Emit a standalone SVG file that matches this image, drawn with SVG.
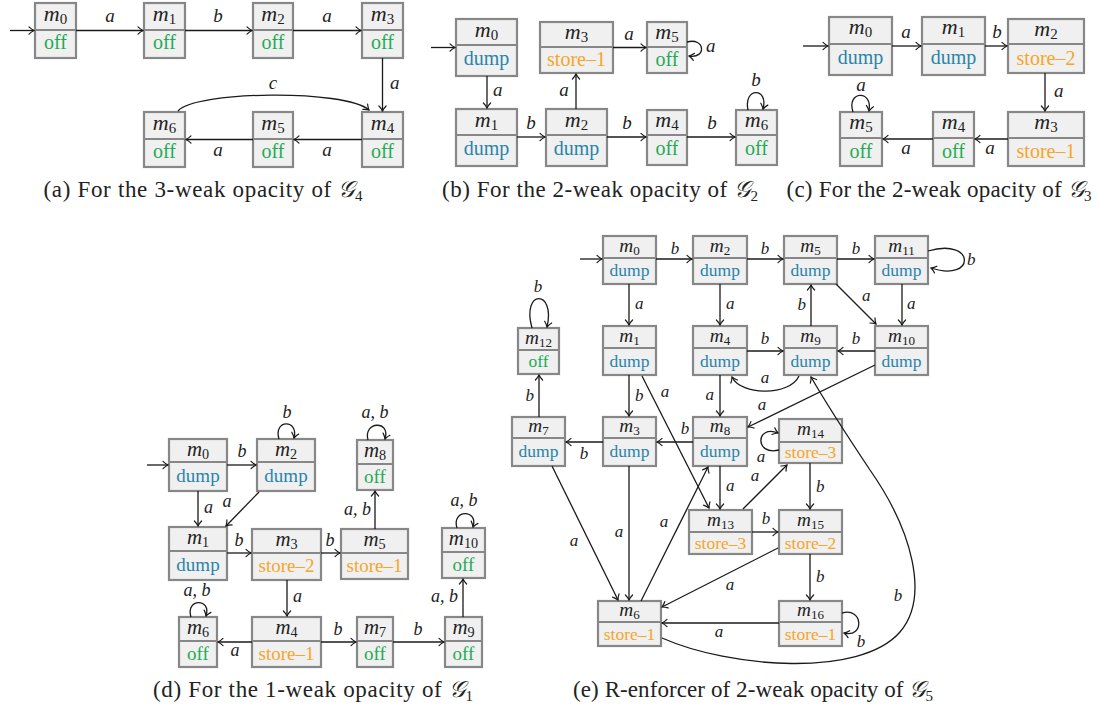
<svg xmlns="http://www.w3.org/2000/svg" width="1100" height="708" viewBox="0 0 1100 708">
<style>
text{font-family:"Liberation Serif","DejaVu Serif",serif;fill:#222}
.box{fill:#f0f0f0;stroke:#878787;stroke-width:2.2}
.dv{stroke:#878787;stroke-width:2}
.mn{font-style:italic;text-anchor:middle;font-size:1.1em}
.sub{font-style:normal;font-size:0.68em}
.st{text-anchor:middle}
.dump{fill:#2a83aa}
.off{fill:#1faa55}
.store{fill:#f6a52a}
.e{fill:none;stroke:#1a1a1a;stroke-width:1.3;marker-end:url(#ah)}
.l{font-style:italic;font-size:19px}
.lm{font-style:italic;font-size:19px;text-anchor:middle}
.le{font-style:italic;font-size:19px;text-anchor:end}
.cap{font-size:23px;text-anchor:middle}
.g{font-family:"DejaVu Sans","Noto Sans",serif;font-style:italic}
.cs{font-size:15px}
.A{font-size:20px}
.D{font-size:19px}
.E{font-size:17.5px}
.D .l,.D .lm,.D .le{font-size:18px}
.E .l,.E .lm,.E .le{font-size:17px}
</style>
<defs>
<marker id="ah" markerUnits="userSpaceOnUse" markerWidth="12" markerHeight="12" viewBox="-6 -6 12 12" refX="0" refY="0" orient="auto">
<path d="M-5,-3.6 C-3,-1.6 -1,-0.5 0,0 C-1,0.5 -3,1.6 -5,3.6" fill="none" stroke="#1a1a1a" stroke-width="1.2" stroke-linecap="round"/>
</marker>
</defs>

<!-- ===== (a) ===== -->
<g class="A">
<g id="a-m0"><rect class="box" x="35" y="3" width="41" height="55"/><line class="dv" x1="35" y1="30" x2="76" y2="30"/><text class="mn" x="55.5" y="21">m<tspan class="sub" dy="3">0</tspan></text><text class="st off" x="55.5" y="49">off</text></g>
<g id="a-m1"><rect class="box" x="144" y="3" width="41" height="55"/><line class="dv" x1="144" y1="30" x2="185" y2="30"/><text class="mn" x="164.5" y="21">m<tspan class="sub" dy="3">1</tspan></text><text class="st off" x="164.5" y="49">off</text></g>
<g id="a-m2"><rect class="box" x="253" y="3" width="40" height="55"/><line class="dv" x1="253" y1="30" x2="293" y2="30"/><text class="mn" x="273" y="21">m<tspan class="sub" dy="3">2</tspan></text><text class="st off" x="273" y="49">off</text></g>
<g id="a-m3"><rect class="box" x="362" y="3" width="41" height="55"/><line class="dv" x1="362" y1="30" x2="403" y2="30"/><text class="mn" x="382.5" y="21">m<tspan class="sub" dy="3">3</tspan></text><text class="st off" x="382.5" y="49">off</text></g>
<g id="a-m4"><rect class="box" x="362" y="112" width="41" height="55"/><line class="dv" x1="362" y1="139" x2="403" y2="139"/><text class="mn" x="382.5" y="130">m<tspan class="sub" dy="3">4</tspan></text><text class="st off" x="382.5" y="158">off</text></g>
<g id="a-m5"><rect class="box" x="253" y="112" width="40" height="55"/><line class="dv" x1="253" y1="139" x2="293" y2="139"/><text class="mn" x="273" y="130">m<tspan class="sub" dy="3">5</tspan></text><text class="st off" x="273" y="158">off</text></g>
<g id="a-m6"><rect class="box" x="144" y="112" width="41" height="55"/><line class="dv" x1="144" y1="139" x2="185" y2="139"/><text class="mn" x="164.5" y="130">m<tspan class="sub" dy="3">6</tspan></text><text class="st off" x="164.5" y="158">off</text></g>
<g id="a-edges">
<path class="e" d="M10 30.5 H34"/>
<path class="e" d="M76 30.5 H143"/><text class="lm" x="110" y="22">a</text>
<path class="e" d="M185 30.5 H252"/><text class="lm" x="218" y="22">b</text>
<path class="e" d="M293 30.5 H361"/><text class="lm" x="327" y="22">a</text>
<path class="e" d="M382.5 58 V111"/><text class="l" x="390" y="89">a</text>
<path class="e" d="M178 111 C195 91, 345 89, 369 110"/><text class="lm" x="273" y="89">c</text>
<path class="e" d="M362 139.5 H294"/><text class="lm" x="327" y="156">a</text>
<path class="e" d="M253 139.5 H186"/><text class="lm" x="218" y="156">a</text>
</g>
<text class="cap" x="203" y="196.5" textLength="319">(a) For the 3-weak opacity of <tspan class="g">𝒢</tspan><tspan class="cs" dy="4">4</tspan></text>
</g>

<!-- ===== (b) ===== -->
<g class="A">
<g id="b-m0"><rect class="box" x="456" y="19" width="61" height="57"/><line class="dv" x1="456" y1="45" x2="517" y2="45"/><text class="mn" x="486.5" y="37">m<tspan class="sub" dy="3">0</tspan></text><text class="st dump" x="486.5" y="65">dump</text></g>
<g id="b-m3"><rect class="box" x="540" y="22" width="73" height="51"/><line class="dv" x1="540" y1="47" x2="613" y2="47"/><text class="mn" x="576.5" y="39">m<tspan class="sub" dy="3">3</tspan></text><text class="st store" x="576.5" y="66">store–1</text></g>
<g id="b-m5"><rect class="box" x="647" y="22" width="40" height="51"/><line class="dv" x1="647" y1="47" x2="687" y2="47"/><text class="mn" x="667" y="39">m<tspan class="sub" dy="3">5</tspan></text><text class="st off" x="667" y="66">off</text></g>
<g id="b-m1"><rect class="box" x="456" y="109" width="61" height="57"/><line class="dv" x1="456" y1="135" x2="517" y2="135"/><text class="mn" x="486.5" y="127">m<tspan class="sub" dy="3">1</tspan></text><text class="st dump" x="486.5" y="155">dump</text></g>
<g id="b-m2"><rect class="box" x="546" y="109" width="61" height="57"/><line class="dv" x1="546" y1="135" x2="607" y2="135"/><text class="mn" x="576.5" y="127">m<tspan class="sub" dy="3">2</tspan></text><text class="st dump" x="576.5" y="155">dump</text></g>
<g id="b-m4"><rect class="box" x="647" y="110" width="40" height="55"/><line class="dv" x1="647" y1="135" x2="687" y2="135"/><text class="mn" x="667" y="127">m<tspan class="sub" dy="3">4</tspan></text><text class="st off" x="667" y="155">off</text></g>
<g id="b-m6"><rect class="box" x="736" y="110" width="41" height="55"/><line class="dv" x1="736" y1="135" x2="777" y2="135"/><text class="mn" x="756.5" y="127">m<tspan class="sub" dy="3">6</tspan></text><text class="st off" x="756.5" y="155">off</text></g>
<g id="b-edges">
<path class="e" d="M431 47.5 H455"/>
<path class="e" d="M487 76 V108"/><text class="l" x="493" y="96">a</text>
<path class="e" d="M517 137 H545"/><text class="lm" x="531" y="129">b</text>
<path class="e" d="M576 109 V74"/><text class="lm" x="564" y="96">a</text>
<path class="e" d="M607 137 H646"/><text class="lm" x="627" y="129">b</text>
<path class="e" d="M687 137 H735"/><text class="lm" x="712" y="129">b</text>
<path class="e" d="M613 47.5 H646"/><text class="lm" x="629" y="40">a</text>
<path class="e" d="M687 42 C705 37, 707 59, 689 56"/><text class="l" x="706" y="52">a</text>
<path class="e" d="M748 110 C743 87, 769 87, 763 109"/><text class="lm" x="756" y="86">b</text>
</g>
<text class="cap" x="600" y="196.5" textLength="316">(b) For the 2-weak opacity of <tspan class="g">𝒢</tspan><tspan class="cs" dy="4">2</tspan></text>
</g>

<!-- ===== (c) ===== -->
<g class="A">
<g id="c-m0"><rect class="box" x="829" y="17" width="63" height="58"/><line class="dv" x1="829" y1="44" x2="892" y2="44"/><text class="mn" x="860.5" y="34">m<tspan class="sub" dy="3">0</tspan></text><text class="st dump" x="860.5" y="64">dump</text></g>
<g id="c-m1"><rect class="box" x="922" y="17" width="63" height="58"/><line class="dv" x1="922" y1="44" x2="985" y2="44"/><text class="mn" x="953.5" y="34">m<tspan class="sub" dy="3">1</tspan></text><text class="st dump" x="953.5" y="64">dump</text></g>
<g id="c-m2"><rect class="box" x="1008" y="19" width="76" height="54"/><line class="dv" x1="1008" y1="44" x2="1084" y2="44"/><text class="mn" x="1046" y="36">m<tspan class="sub" dy="3">2</tspan></text><text class="st store" x="1046" y="65">store–2</text></g>
<g id="c-m3"><rect class="box" x="1008" y="112" width="76" height="54"/><line class="dv" x1="1008" y1="138" x2="1084" y2="138"/><text class="mn" x="1046" y="129">m<tspan class="sub" dy="3">3</tspan></text><text class="st store" x="1046" y="158">store–1</text></g>
<g id="c-m4"><rect class="box" x="933" y="112" width="41" height="54"/><line class="dv" x1="933" y1="138" x2="974" y2="138"/><text class="mn" x="953.5" y="129">m<tspan class="sub" dy="3">4</tspan></text><text class="st off" x="953.5" y="158">off</text></g>
<g id="c-m5"><rect class="box" x="840" y="112" width="42" height="54"/><line class="dv" x1="840" y1="138" x2="882" y2="138"/><text class="mn" x="861" y="129">m<tspan class="sub" dy="3">5</tspan></text><text class="st off" x="861" y="158">off</text></g>
<g id="c-edges">
<path class="e" d="M803 46 H828"/>
<path class="e" d="M892 46 H921"/><text class="lm" x="906" y="38">a</text>
<path class="e" d="M985 46 H1007"/><text class="lm" x="997" y="38">b</text>
<path class="e" d="M1045 73 V111"/><text class="l" x="1054" y="97">a</text>
<path class="e" d="M1008 139 H975"/><text class="lm" x="990" y="154">a</text>
<path class="e" d="M933 139 H883"/><text class="lm" x="906" y="154">a</text>
<path class="e" d="M853 112 C846 91, 873 89, 869 111"/><text class="lm" x="861" y="91">a</text>
</g>
<text class="cap" x="939" y="196.5" textLength="305">(c) For the 2-weak opacity of <tspan class="g">𝒢</tspan><tspan class="cs" dy="4">3</tspan></text>
</g>

<!-- ===== (d) ===== -->
<g class="D">
<g id="d-m0"><rect class="box" x="169" y="439" width="58" height="52"/><line class="dv" x1="169" y1="462" x2="227" y2="462"/><text class="mn" x="198" y="456">m<tspan class="sub" dy="3">0</tspan></text><text class="st dump" x="198" y="482">dump</text></g>
<g id="d-m2"><rect class="box" x="257" y="439" width="58" height="52"/><line class="dv" x1="257" y1="462" x2="315" y2="462"/><text class="mn" x="286" y="456">m<tspan class="sub" dy="3">2</tspan></text><text class="st dump" x="286" y="482">dump</text></g>
<g id="d-m8"><rect class="box" x="357" y="440" width="36" height="50"/><line class="dv" x1="357" y1="464" x2="393" y2="464"/><text class="mn" x="375" y="457">m<tspan class="sub" dy="3">8</tspan></text><text class="st off" x="375" y="483">off</text></g>
<g id="d-m1"><rect class="box" x="169" y="527" width="58" height="53"/><line class="dv" x1="169" y1="551" x2="227" y2="551"/><text class="mn" x="198" y="544">m<tspan class="sub" dy="3">1</tspan></text><text class="st dump" x="198" y="571">dump</text></g>
<g id="d-m3"><rect class="box" x="252" y="529" width="69" height="51"/><line class="dv" x1="252" y1="553" x2="321" y2="553"/><text class="mn" x="286.5" y="546">m<tspan class="sub" dy="3">3</tspan></text><text class="st store" x="286.5" y="572">store–2</text></g>
<g id="d-m5"><rect class="box" x="341" y="529" width="67" height="50"/><line class="dv" x1="341" y1="553" x2="408" y2="553"/><text class="mn" x="374.5" y="546">m<tspan class="sub" dy="3">5</tspan></text><text class="st store" x="374.5" y="572">store–1</text></g>
<g id="d-m10"><rect class="box" x="442" y="528" width="43" height="50"/><line class="dv" x1="442" y1="552" x2="485" y2="552"/><text class="mn" x="463.5" y="545">m<tspan class="sub" dy="3">10</tspan></text><text class="st off" x="463.5" y="571">off</text></g>
<g id="d-m6"><rect class="box" x="179" y="617" width="38" height="50"/><line class="dv" x1="179" y1="641" x2="217" y2="641"/><text class="mn" x="198" y="634">m<tspan class="sub" dy="3">6</tspan></text><text class="st off" x="198" y="660">off</text></g>
<g id="d-m4"><rect class="box" x="252" y="617" width="69" height="50"/><line class="dv" x1="252" y1="641" x2="321" y2="641"/><text class="mn" x="286.5" y="634">m<tspan class="sub" dy="3">4</tspan></text><text class="st store" x="286.5" y="660">store–1</text></g>
<g id="d-m7"><rect class="box" x="357" y="617" width="36" height="50"/><line class="dv" x1="357" y1="641" x2="393" y2="641"/><text class="mn" x="375" y="634">m<tspan class="sub" dy="3">7</tspan></text><text class="st off" x="375" y="660">off</text></g>
<g id="d-m9"><rect class="box" x="445" y="617" width="37" height="50"/><line class="dv" x1="445" y1="641" x2="482" y2="641"/><text class="mn" x="463.5" y="634">m<tspan class="sub" dy="3">9</tspan></text><text class="st off" x="463.5" y="660">off</text></g>
<g id="d-edges">
<path class="e" d="M147 465 H168"/>
<path class="e" d="M227 465 H256"/><text class="lm" x="242" y="457">b</text>
<path class="e" d="M279 439 C273 419, 299 419, 294 438"/><text class="lm" x="287" y="418">b</text>
<path class="e" d="M198 491 V526"/><text class="l" x="204" y="513">a</text>
<path class="e" d="M259 492 L226 526"/><text class="lm" x="227" y="507">a</text>
<path class="e" d="M227 553 H251"/><text class="lm" x="239" y="546">b</text>
<path class="e" d="M321 553 H340"/><text class="lm" x="330" y="546">b</text>
<path class="e" d="M375 529 V491"/><text class="le" x="371" y="515">a, b</text>
<path class="e" d="M368 440 C363 421, 391 420, 385 439"/><text class="lm" x="375" y="418">a, b</text>
<path class="e" d="M287 580 V616"/><text class="l" x="293" y="602">a</text>
<path class="e" d="M252 642 H218"/><text class="lm" x="235" y="656">a</text>
<path class="e" d="M321 642 H356"/><text class="lm" x="338" y="635">b</text>
<path class="e" d="M393 642 H444"/><text class="lm" x="418" y="635">b</text>
<path class="e" d="M463 617 V579"/><text class="le" x="458" y="602">a, b</text>
<path class="e" d="M457 528 C451 509, 479 509, 473 527"/><text class="lm" x="464" y="506">a, b</text>
<path class="e" d="M191 617 C185 598, 212 598, 206 616"/><text class="lm" x="197" y="596">a, b</text>
</g>
<text class="cap" x="313" y="697" textLength="320">(d) For the 1-weak opacity of <tspan class="g">𝒢</tspan><tspan class="cs" dy="4">1</tspan></text>
</g>

<!-- ===== (e) ===== -->
<g class="E">
<g id="e-m0"><rect class="box" x="603" y="236" width="53" height="48"/><line class="dv" x1="603" y1="258" x2="656" y2="258"/><text class="mn" x="629.5" y="251.5">m<tspan class="sub" dy="3">0</tspan></text><text class="st dump" x="629.5" y="276">dump</text></g>
<g id="e-m2"><rect class="box" x="693" y="236" width="54" height="48"/><line class="dv" x1="693" y1="258" x2="747" y2="258"/><text class="mn" x="720" y="251.5">m<tspan class="sub" dy="3">2</tspan></text><text class="st dump" x="720" y="276">dump</text></g>
<g id="e-m5"><rect class="box" x="784" y="236" width="53" height="48"/><line class="dv" x1="784" y1="258" x2="837" y2="258"/><text class="mn" x="810.5" y="251.5">m<tspan class="sub" dy="3">5</tspan></text><text class="st dump" x="810.5" y="276">dump</text></g>
<g id="e-m11"><rect class="box" x="875" y="236" width="53" height="48"/><line class="dv" x1="875" y1="258" x2="928" y2="258"/><text class="mn" x="901.5" y="251.5">m<tspan class="sub" dy="3">11</tspan></text><text class="st dump" x="901.5" y="276">dump</text></g>
<g id="e-m12"><rect class="box" x="518" y="328" width="41" height="46"/><line class="dv" x1="518" y1="350" x2="559" y2="350"/><text class="mn" x="538.5" y="343.5">m<tspan class="sub" dy="3">12</tspan></text><text class="st off" x="538.5" y="367">off</text></g>
<g id="e-m1"><rect class="box" x="603" y="326" width="53" height="49"/><line class="dv" x1="603" y1="348" x2="656" y2="348"/><text class="mn" x="629.5" y="341.5">m<tspan class="sub" dy="3">1</tspan></text><text class="st dump" x="629.5" y="366.5">dump</text></g>
<g id="e-m4"><rect class="box" x="693" y="326" width="54" height="49"/><line class="dv" x1="693" y1="348" x2="747" y2="348"/><text class="mn" x="720" y="341.5">m<tspan class="sub" dy="3">4</tspan></text><text class="st dump" x="720" y="366.5">dump</text></g>
<g id="e-m9"><rect class="box" x="784" y="326" width="53" height="49"/><line class="dv" x1="784" y1="348" x2="837" y2="348"/><text class="mn" x="810.5" y="341.5">m<tspan class="sub" dy="3">9</tspan></text><text class="st dump" x="810.5" y="366.5">dump</text></g>
<g id="e-m10"><rect class="box" x="875" y="326" width="53" height="49"/><line class="dv" x1="875" y1="348" x2="928" y2="348"/><text class="mn" x="901.5" y="341.5">m<tspan class="sub" dy="3">10</tspan></text><text class="st dump" x="901.5" y="366.5">dump</text></g>
<g id="e-m7"><rect class="box" x="512" y="417" width="53" height="49"/><line class="dv" x1="512" y1="438" x2="565" y2="438"/><text class="mn" x="538.5" y="432">m<tspan class="sub" dy="3">7</tspan></text><text class="st dump" x="538.5" y="457">dump</text></g>
<g id="e-m3"><rect class="box" x="603" y="417" width="53" height="49"/><line class="dv" x1="603" y1="438" x2="656" y2="438"/><text class="mn" x="629.5" y="432">m<tspan class="sub" dy="3">3</tspan></text><text class="st dump" x="629.5" y="457">dump</text></g>
<g id="e-m8"><rect class="box" x="693" y="417" width="54" height="49"/><line class="dv" x1="693" y1="438" x2="747" y2="438"/><text class="mn" x="720" y="432">m<tspan class="sub" dy="3">8</tspan></text><text class="st dump" x="720" y="457">dump</text></g>
<g id="e-m14"><rect class="box" x="779" y="419" width="63" height="44"/><line class="dv" x1="779" y1="442" x2="842" y2="442"/><text class="mn" x="810.5" y="435">m<tspan class="sub" dy="3">14</tspan></text><text class="st store" x="810.5" y="458">store–3</text></g>
<g id="e-m13"><rect class="box" x="689" y="510" width="63" height="44"/><line class="dv" x1="689" y1="532" x2="752" y2="532"/><text class="mn" x="720.5" y="525.5">m<tspan class="sub" dy="3">13</tspan></text><text class="st store" x="720.5" y="548.5">store–3</text></g>
<g id="e-m15"><rect class="box" x="779" y="510" width="63" height="44"/><line class="dv" x1="779" y1="532" x2="842" y2="532"/><text class="mn" x="810.5" y="525.5">m<tspan class="sub" dy="3">15</tspan></text><text class="st store" x="810.5" y="548.5">store–2</text></g>
<g id="e-m6"><rect class="box" x="598" y="601" width="63" height="45"/><line class="dv" x1="598" y1="622" x2="661" y2="622"/><text class="mn" x="629.5" y="616">m<tspan class="sub" dy="3">6</tspan></text><text class="st store" x="629.5" y="639.5">store–1</text></g>
<g id="e-m16"><rect class="box" x="779" y="601" width="63" height="45"/><line class="dv" x1="779" y1="622" x2="842" y2="622"/><text class="mn" x="810.5" y="616">m<tspan class="sub" dy="3">16</tspan></text><text class="st store" x="810.5" y="639.5">store–1</text></g>
<g id="e-edges">
<path class="e" d="M580 259 H602"/>
<path class="e" d="M656 259 H692"/><text class="lm" x="675" y="254">b</text>
<path class="e" d="M747 259 H783"/><text class="lm" x="765" y="254">b</text>
<path class="e" d="M837 259 H874"/><text class="lm" x="856" y="254">b</text>
<path class="e" d="M928 251 C976 237, 976 283, 931 268"/><text class="l" x="967" y="265">b</text>
<path class="e" d="M629 284 V325"/><text class="l" x="635" y="309">a</text>
<path class="e" d="M720 284 V325"/><text class="l" x="726" y="309">a</text>
<path class="e" d="M811 326 V285"/><text class="le" x="806" y="310">b</text>
<path class="e" d="M836 284 L876 324"/><text class="l" x="862" y="301">a</text>
<path class="e" d="M902 284 V325"/><text class="l" x="907" y="309">a</text>
<path class="e" d="M747 351 H783"/><text class="lm" x="765" y="344">b</text>
<path class="e" d="M875 351 H838"/><text class="lm" x="856" y="344">b</text>
<path class="e" d="M799 376 C790 396, 741 396, 732 377"/><text class="lm" x="765" y="383">a</text>
<path class="e" d="M629 375 V416"/><text class="l" x="635" y="401">b</text>
<path class="e" d="M720 375 V416"/><text class="le" x="714" y="400">a</text>
<path class="e" d="M875 365 L748 427"/><text class="lm" x="762" y="410">a</text>
<path class="e" d="M642 376 L709 508"/><text class="lm" x="665" y="397">a</text>
<path class="e" d="M693 442 H657"/><text class="lm" x="685" y="434">b</text>
<path class="e" d="M603 442 H566"/><text class="lm" x="584" y="459">b</text>
<path class="e" d="M539 417 V375"/><text class="le" x="534" y="401">b</text>
<path class="e" d="M532 328 C521 289, 556 289, 547 327"/><text class="lm" x="538" y="292">b</text>
<path class="e" d="M779 450 C754 456, 756 424, 778 433"/><text class="lm" x="761" y="462">a</text>
<path class="e" d="M720 466 V509"/><text class="l" x="726" y="491">a</text>
<path class="e" d="M743 509 L787 465"/><text class="lm" x="755" y="481">a</text>
<path class="e" d="M810 463 V509"/><text class="l" x="816" y="492">b</text>
<path class="e" d="M752 532 H778"/><text class="lm" x="766" y="524">b</text>
<path class="e" d="M810 554 V600"/><text class="l" x="816" y="582">b</text>
<path class="e" d="M778 548 L662 607"/><text class="lm" x="730" y="590">a</text>
<path class="e" d="M779 623 H662"/><text class="lm" x="719" y="637">a</text>
<path class="e" d="M842 613 C863 607, 865 638, 844 633"/><text class="lm" x="861" y="647">b</text>
<path class="e" d="M552 466 L618 600"/><text class="lm" x="574" y="546">a</text>
<path class="e" d="M629 466 V600"/><text class="lm" x="619" y="537">a</text>
<path class="e" d="M641 601 L708 467"/><text class="lm" x="664" y="527">a</text>
<path class="e" d="M662 638 C730 668, 860 678, 900 632 C930 597, 912 530, 870 470 C850 440, 830 410, 811 377"/><text class="lm" x="898" y="601">b</text>
</g>
<text class="cap" x="753" y="697" textLength="360">(e) R-enforcer of 2-weak opacity of <tspan class="g">𝒢</tspan><tspan class="cs" dy="4">5</tspan></text>
</g>
</svg>
